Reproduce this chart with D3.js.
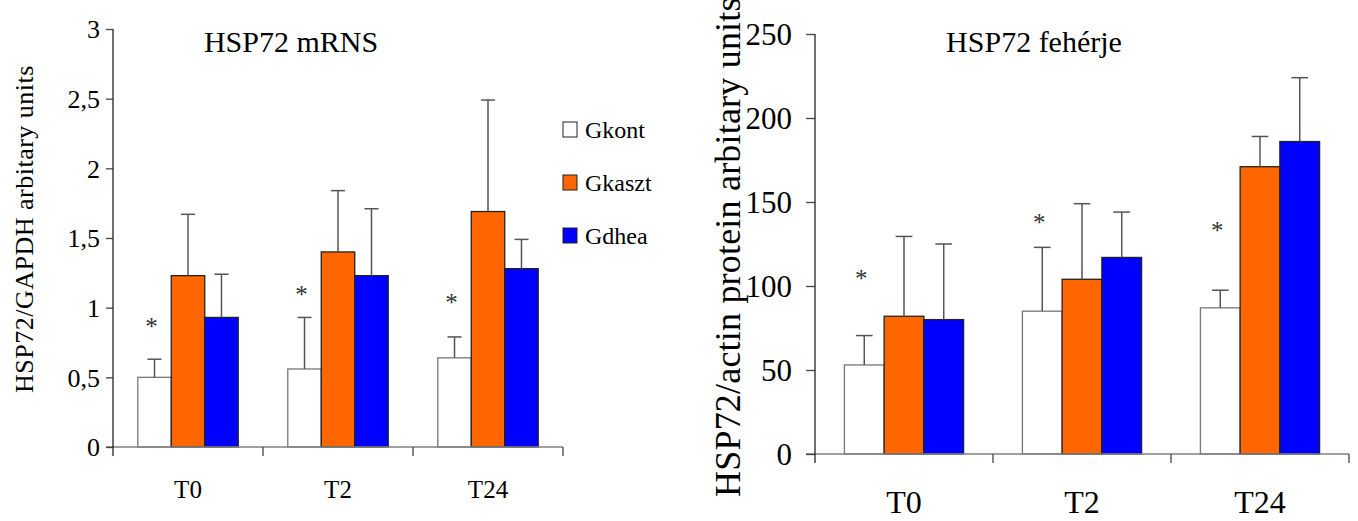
<!DOCTYPE html>
<html>
<head>
<meta charset="utf-8">
<script src="https://cdn.jsdelivr.net/npm/d3@7"></script>
<style>
  body { margin: 0; background: #fff; }
  svg text { font-family: "Liberation Serif", "Times New Roman", serif; fill: #000; }
</style>
</head>
<body>
<div id="chart"></div>
<script>
const categories = ["T0", "T2", "T24"];
const groups = ["Gkont", "Gkaszt", "Gdhea"];
const colors = ["#ffffff", "#ff6600", "#0000ff"];

// HSP72 mRNS (means and upper error)
const mrnsKont = [0.5, 0.56, 0.64];
const mrnsKaszt = [1.23, 1.4, 1.69];
const mrnsDhea = [0.93, 1.23, 1.28];
const mrnsKontSd = [0.13, 0.37, 0.15];
const mrnsKasztSd = [0.44, 0.44, 0.8];
const mrnsDheaSd = [0.31, 0.48, 0.21];
const mrnsStar = [0.89, 1.12, 1.06];
const mrnsTicks = [0, 0.5, 1, 1.5, 2, 2.5, 3];

// HSP72 feherje
const protKont = [53, 85, 87];
const protKaszt = [82, 104, 171];
const protDhea = [80, 117, 186];
const protKontSd = [17.5, 38, 10.5];
const protKasztSd = [47.5, 45, 18];
const protDheaSd = [45, 27, 38];
const protStar = [106.6, 140, 135];
const protTicks = [0, 50, 100, 150, 200, 250];

const FONT = '"Liberation Serif", "Times New Roman", serif';

const svg = d3.select("#chart").append("svg").attr("width", 1358).attr("height", 521);

function panel(cfg) {
  const x0 = d3.scaleBand().domain(categories).range([cfg.left, cfg.right]);
  const x1 = d3.scaleBand().domain(groups).range([0, x0.bandwidth()]).paddingOuter(0.74);
  const y = d3.scaleLinear().domain(cfg.domain).range([cfg.bottom, cfg.top]);
  const g = svg.append("g");

  const rows = [];
  categories.forEach((c, i) => {
    groups.forEach((s, j) => {
      rows.push({ cat: c, grp: s, j, v: cfg.means[j][i], sd: cfg.sds[j][i] });
    });
  });

  // bars
  g.selectAll("rect.bar")
    .data(rows)
    .enter()
    .append("rect")
    .attr("class", "bar")
    .attr("x", (d) => x0(d.cat) + x1(d.grp))
    .attr("y", (d) => y(d.v))
    .attr("width", x1.bandwidth())
    .attr("height", (d) => y(0) - y(d.v))
    .attr("fill", (d) => colors[d.j])
    .attr("stroke", (d) => (d.j === 0 ? "#777" : "#222"))
    .attr("stroke-width", 1.3);

  // error bars
  const cap = x1.bandwidth() * 0.21;
  const eb = g.selectAll("g.err").data(rows).enter().append("g").attr("class", "err")
    .attr("stroke", "#555").attr("stroke-width", 1.5);
  eb.append("line")
    .attr("x1", (d) => x0(d.cat) + x1(d.grp) + x1.bandwidth() / 2)
    .attr("x2", (d) => x0(d.cat) + x1(d.grp) + x1.bandwidth() / 2)
    .attr("y1", (d) => y(d.v))
    .attr("y2", (d) => y(d.v + d.sd));
  eb.append("line")
    .attr("x1", (d) => x0(d.cat) + x1(d.grp) + x1.bandwidth() / 2 - cap)
    .attr("x2", (d) => x0(d.cat) + x1(d.grp) + x1.bandwidth() / 2 + cap)
    .attr("y1", (d) => y(d.v + d.sd))
    .attr("y2", (d) => y(d.v + d.sd));

  // asterisks
  g.selectAll("text.star")
    .data(categories)
    .enter()
    .append("text")
    .attr("class", "star")
    .attr("x", (d) => x0(d) + x1("Gkont") + x1.bandwidth() / 2 - 3)
    .attr("y", (d, i) => y(cfg.stars[i]) + 12)
    .attr("text-anchor", "middle")
    .style("font-size", "25px")
    .style("fill", "#333")
    .text("*");

  // x axis
  g.append("line")
    .attr("x1", cfg.left - cfg.tick).attr("x2", cfg.right)
    .attr("y1", y(0)).attr("y2", y(0))
    .attr("stroke", "#808080").attr("stroke-width", 1.5);
  g.selectAll("line.xt")
    .data(categories.slice(1).concat(["end"]))
    .enter()
    .append("line")
    .attr("class", "xt")
    .attr("x1", (d) => (d === "end" ? cfg.right : x0(d)))
    .attr("x2", (d) => (d === "end" ? cfg.right : x0(d)))
    .attr("y1", y(0)).attr("y2", y(0) + 9)
    .attr("stroke", "#444").attr("stroke-width", 1.3);
  g.selectAll("text.cat")
    .data(categories)
    .enter()
    .append("text")
    .attr("class", "cat")
    .attr("x", (d) => x0(d) + x0.bandwidth() / 2)
    .attr("y", cfg.catY)
    .attr("text-anchor", "middle")
    .style("font-size", cfg.catSize + "px")
    .text((d) => d);

  // y axis
  const yAxis = d3.axisLeft(y)
    .tickValues(cfg.ticks)
    .tickSize(cfg.tick)
    .tickPadding(cfg.pad)
    .tickFormat((d) => String(d).replace(".", ","));
  const ya = g.append("g").attr("transform", `translate(${cfg.left},0)`).call(yAxis)
    .attr("font-family", FONT);
  ya.select(".domain").remove();
  ya.selectAll(".tick line").attr("stroke", "#444").attr("stroke-width", 1.3);
  ya.selectAll(".tick text")
    .style("font-size", cfg.tickSize + "px")
    .style("font-family", FONT)
    .attr("dy", "0.34em");
  g.append("line")
    .attr("x1", cfg.left).attr("x2", cfg.left)
    .attr("y1", y(cfg.domain[1])).attr("y2", y(0) + 9)
    .attr("stroke", "#222").attr("stroke-width", 1.3);

  // title
  g.append("text")
    .attr("x", cfg.titleX).attr("y", 52)
    .attr("text-anchor", "middle")
    .style("font-size", "30px")
    .text(cfg.title);

  // y label
  g.append("text")
    .attr("transform", `translate(${cfg.labelX},${cfg.labelY}) rotate(-90)`)
    .style("font-size", cfg.labelSize + "px")
    .style("letter-spacing", cfg.labelSpacing + "px")
    .text(cfg.label);
}

panel({
  left: 113, right: 563, top: 29, bottom: 447, domain: [0, 3],
  means: [mrnsKont, mrnsKaszt, mrnsDhea],
  sds: [mrnsKontSd, mrnsKasztSd, mrnsDheaSd],
  stars: mrnsStar, ticks: mrnsTicks,
  tick: 7, pad: 6, tickSize: 26, catSize: 25, catY: 498,
  title: "HSP72 mRNS", titleX: 291,
  label: "HSP72/GAPDH arbitary units", labelX: 33, labelY: 393, labelSize: 26, labelSpacing: 0.5
});

panel({
  left: 815, right: 1349, top: 34, bottom: 454, domain: [0, 250],
  means: [protKont, protKaszt, protDhea],
  sds: [protKontSd, protKasztSd, protDheaSd],
  stars: protStar, ticks: protTicks,
  tick: 9, pad: 14, tickSize: 31, catSize: 32, catY: 513,
  title: "HSP72 feh\u00e9rje", titleX: 1034,
  label: "HSP72/actin protein arbitary units", labelX: 740, labelY: 497, labelSize: 36, labelSpacing: 0.2
});

// legend (left panel)
const legend = svg.append("g").attr("transform", "translate(563,122)");
const li = legend.selectAll("g").data(groups).enter().append("g")
  .attr("transform", (d, i) => `translate(0,${i * 53})`);
li.append("rect")
  .attr("width", 14).attr("height", 15)
  .attr("fill", (d, i) => colors[i])
  .attr("stroke", "#222").attr("stroke-width", 1);
li.append("text")
  .attr("x", 22).attr("y", 16)
  .style("font-size", "24px")
  .style("font-family", FONT)
  .text((d) => d);
</script>
</body>
</html>
